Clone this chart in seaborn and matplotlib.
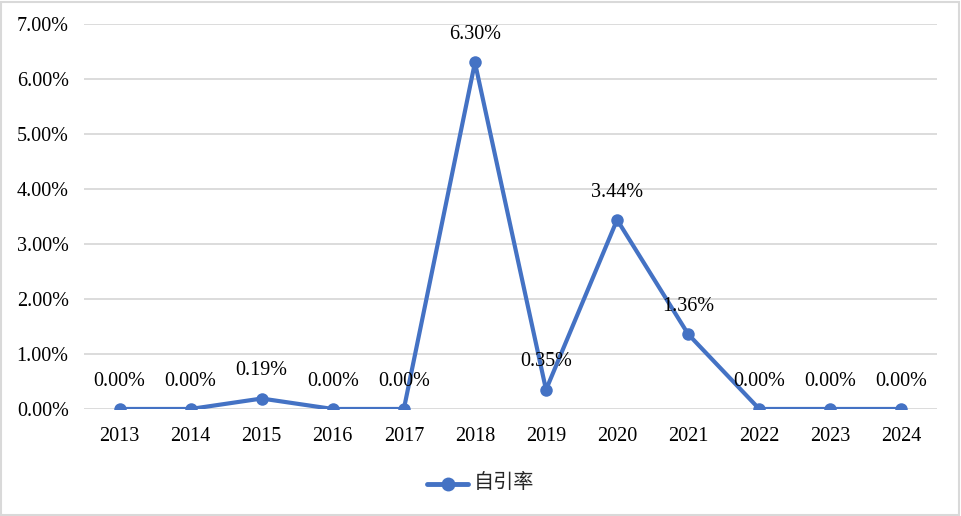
import matplotlib
matplotlib.use('Agg')
import matplotlib.pyplot as plt
import seaborn as sns
import pandas as pd
from matplotlib.ticker import FuncFormatter
from matplotlib.patches import Rectangle

years = ['2013', '2014', '2015', '2016', '2017', '2018',
         '2019', '2020', '2021', '2022', '2023', '2024']
self_cite = [0.00, 0.00, 0.19, 0.00, 0.00, 6.30,
             0.35, 3.44, 1.36, 0.00, 0.00, 0.00]
series_name = '自引率'

df = pd.DataFrame({'year': years, 'rate': self_cite})

sns.set_style('white')
plt.rcParams['font.family'] = ['Liberation Serif', 'Noto Sans CJK SC']

color = '#4472C4'

fig = plt.figure(figsize=(9.61, 5.16), dpi=100)
ax = fig.add_axes([0.0874, 0.2074, 0.975 - 0.0874, 0.9535 - 0.2074])

sns.lineplot(data=df, x='year', y='rate', ax=ax, color=color, linewidth=3,
             marker='o', markersize=9, markeredgewidth=0, label=series_name,
             sort=False)

for i, v in enumerate(self_cite):
    ax.annotate(f'{v:.2f}%', (i, v), xytext=(0, 20), textcoords='offset points',
                ha='center', va='center', fontsize=14.5, color='black')

ax.set_xlim(-0.5, len(years) - 0.5)
ax.set_ylim(0, 7)
ax.set_yticks([0, 1, 2, 3, 4, 5, 6, 7])
ax.yaxis.set_major_formatter(FuncFormatter(lambda v, p: f'{v:.2f}%'))
ax.grid(axis='y', color='#D9D9D9', linewidth=1.3)
ax.set_axisbelow(True)
for s in ax.spines.values():
    s.set_visible(False)
ax.tick_params(axis='both', length=0, labelsize=14.5, colors='black')
ax.tick_params(axis='y', pad=11)
ax.tick_params(axis='x', pad=13)
ax.set_xlabel('')
ax.set_ylabel('')

leg = ax.legend(loc='center', bbox_to_anchor=(0.5, 33 / 516), bbox_transform=fig.transFigure,
                frameon=False, handlelength=3, handletextpad=0.4)
for line in leg.get_lines():
    line.set_linewidth(3.5)
    line.set_markersize(10)
for t in leg.get_texts():
    t.set_fontfamily(['Noto Sans CJK SC', 'DejaVu Sans'])
    t.set_fontsize(14.5)

fig.patches.append(Rectangle((0.001, 0.002), 0.997, 0.995, transform=fig.transFigure,
                             fill=False, edgecolor='#D9D9D9', linewidth=1.5))

fig.savefig('out.png', dpi=100)
